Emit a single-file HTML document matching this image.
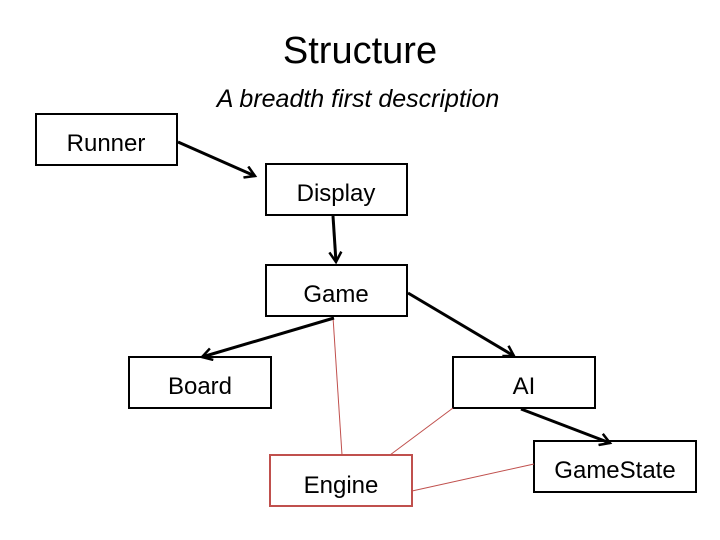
<!DOCTYPE html>
<html><head><meta charset="utf-8"><style>
html,body{margin:0;padding:0;background:#fff;}
svg{display:block;}
text{font-family:"Liberation Sans",sans-serif;fill:#000;}
</style></head><body>
<svg width="720" height="540" viewBox="0 0 720 540">
<defs>
<marker id="a" markerWidth="14" markerHeight="14" refX="11" refY="7" orient="auto" markerUnits="userSpaceOnUse">
<path d="M1,1 L11,7 L1,13" fill="none" stroke="#000" stroke-width="2.5"/>
</marker>
</defs>
<text x="360" y="63" font-size="38" text-anchor="middle">Structure</text>
<text x="358" y="107" font-size="25" font-style="italic" text-anchor="middle">A breadth first description</text>
<g fill="none" stroke="#000" stroke-width="2">
<rect x="36" y="114" width="141" height="51"/>
<rect x="266" y="164" width="141" height="51"/>
<rect x="266" y="265" width="141" height="51"/>
<rect x="129" y="357" width="142" height="51"/>
<rect x="453" y="357" width="142" height="51"/>
<rect x="534" y="441" width="162" height="51"/>
</g>
<rect x="270" y="455" width="142" height="51" fill="none" stroke="#c0504d" stroke-width="2"/>
<g stroke="#c0504d" stroke-width="1">
<line x1="333" y1="317" x2="342" y2="455"/>
<line x1="453" y1="408" x2="390" y2="455"/>
<line x1="534" y1="464" x2="412" y2="491"/>
</g>
<g stroke="#000" stroke-width="3" marker-end="url(#a)">
<line x1="178" y1="142" x2="255" y2="176"/>
<line x1="333" y1="216" x2="336" y2="262"/>
<line x1="334" y1="318" x2="202" y2="357"/>
<line x1="408" y1="293" x2="514" y2="356"/>
<line x1="521" y1="409" x2="610" y2="443"/>
</g>
<g font-size="24" text-anchor="middle">
<text x="106" y="151">Runner</text>
<text x="336" y="201">Display</text>
<text x="336" y="302">Game</text>
<text x="200" y="394">Board</text>
<text x="524" y="394">AI</text>
<text x="615" y="478">GameState</text>
<text x="341" y="493">Engine</text>
</g>
</svg>
</body></html>
